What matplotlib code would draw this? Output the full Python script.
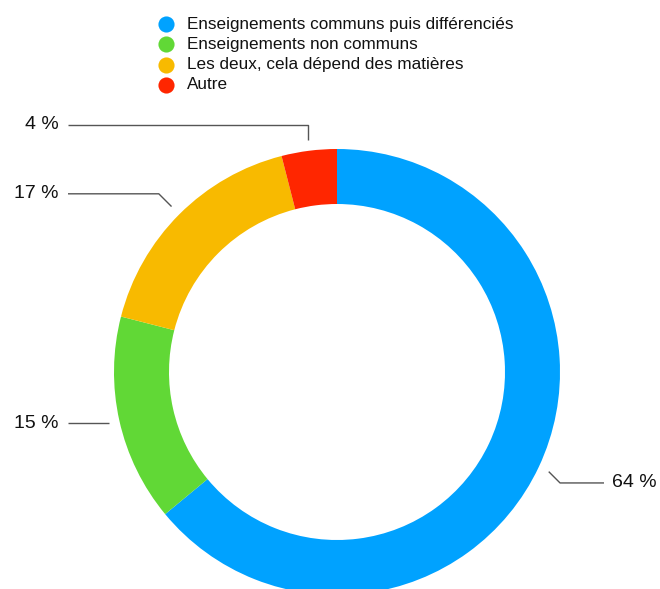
import numpy as np
import matplotlib
matplotlib.use("Agg")
import matplotlib.pyplot as plt

# chart data
categories = ["Enseignements communs puis différenciés",
              "Enseignements non communs",
              "Les deux, cela dépend des matières",
              "Autre"]
values = [64, 15, 17, 4]
value_labels = ["64 %", "15 %", "17 %", "4 %"]
colors = ["#00A2FF", "#61D836", "#F8BA00", "#FF2600"]

W, H = 660, 589
plt.rcParams['font.family'] = ['Liberation Sans', 'DejaVu Sans']

fig = plt.figure(figsize=(W / 100, H / 100), dpi=100)
ax = fig.add_axes([0, 0, 1, 1])

# pixel coords -> data coords (y up)
cx, cy = 337, H - 372
radius = 223

wedges, _ = ax.pie(values, colors=colors, startangle=90, counterclock=False,
                   radius=radius, center=(cx, cy), frame=True,
                   wedgeprops=dict(width=55, linewidth=0))
ax.set_xlim(0, W)
ax.set_ylim(0, H)
ax.set_aspect('equal')
ax.axis('off')

# leader lines: short kink (direction in degrees, length px) then horizontal
kink = [(-45, 16), (180, 0), (135, 18), (90, 15)]
for w, lab, (kd, kl) in zip(wedges, value_labels, kink):
    ang = np.deg2rad((w.theta1 + w.theta2) / 2)
    x0, y0 = cx + 234 * np.cos(ang), cy + 234 * np.sin(ang)
    x1 = x0 + kl * np.cos(np.deg2rad(kd))
    y1 = y0 + kl * np.sin(np.deg2rad(kd))
    if np.cos(ang) >= 0:
        x2 = 604
        ax.text(612, y1, lab, ha='left', va='center', fontsize=14, color='#111111')
    else:
        x2 = 68
        ax.text(59, y1, lab, ha='right', va='center', fontsize=14, color='#111111')
    ax.plot([x0, x1, x2], [y0, y1, y1], color='#555555', lw=1, solid_capstyle='butt')

# legend
for i, (cat, col) in enumerate(zip(categories, colors)):
    ly = H - (24 + i * 20.3)
    ax.scatter([166], [ly], s=135, color=col, linewidths=0)
    ax.text(187, ly, cat, ha='left', va='center', fontsize=12.3, color='#111111')

fig.savefig("out.png", dpi=100)
